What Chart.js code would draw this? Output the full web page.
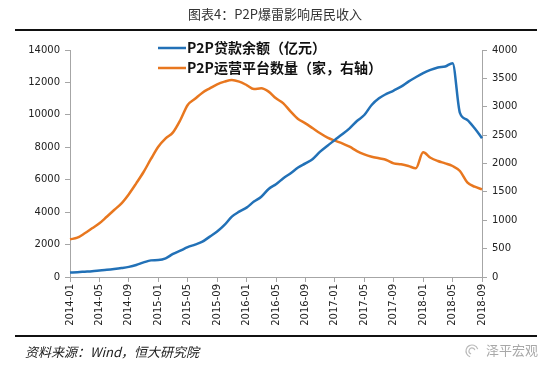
<!DOCTYPE html>
<html>
<head>
<meta charset="utf-8">
<script src="https://cdn.jsdelivr.net/npm/chart.js@4/dist/chart.umd.min.js"></script>
<style>
  html, body { margin: 0; padding: 0; background: #fff; }
  #wrap { width: 550px; height: 367px; position: relative; }
</style>
</head>
<body>
<div id="wrap"><canvas id="chart" width="550" height="367"></canvas></div>
<script>
// months 2014-01 .. 2018-09
const months = [];
for (let y = 2014; y <= 2018; y++) {
  for (let m = 1; m <= 12; m++) {
    if (y === 2018 && m > 9) break;
    months.push(y + "-" + String(m).padStart(2, "0"));
  }
}

// P2P贷款余额（亿元）, left axis
const loanBalance = [
  275, 300, 330, 360, 400, 440, 490, 550, 625, 740, 900, 1025,
  1045, 1150, 1420, 1625, 1840, 2000, 2180, 2490, 2800, 3210, 3720, 4030,
  4280, 4650, 4950, 5430, 5720, 6090, 6400, 6750, 7010, 7280, 7730, 8100,
  8450, 8800, 9170, 9620, 9990, 10610, 11020, 11290, 11500, 11740, 12050, 12320,
  12570, 12770, 12920, 12980, 13190, 10120, 9690, 9170, 8560
];

// P2P运营平台数量（家，右轴）
const platforms = [
  664, 693, 770, 858, 946, 1062, 1180, 1298, 1460, 1650, 1850, 2080,
  2296, 2443, 2549, 2766, 3031, 3140, 3248, 3324, 3395, 3442, 3471, 3442,
  3383, 3313, 3325, 3266, 3148, 3060, 2913, 2784, 2708, 2620, 2532, 2455,
  2402, 2356, 2296, 2220, 2162, 2120, 2091, 2062, 2003, 1986, 1956, 1915,
  2197, 2102, 2044, 2003, 1956, 1868, 1668, 1591, 1545
];

const seriesNames = ["P2P贷款余额（亿元）", "P2P运营平台数量（家，右轴）"];
const leftTicks = [0, 2000, 4000, 6000, 8000, 10000, 12000, 14000];
const rightTicks = [0, 500, 1000, 1500, 2000, 2500, 3000, 3500, 4000];

const BLUE = "#2271b7";
const ORANGE = "#e8771f";
const AXIS = "#a6a6a6";
const tickFont = { family: "DejaVu Sans", size: 10 };

// title, rules, legend and source line
const decor = {
  id: "decor",
  afterDraw(chart) {
    const ctx = chart.ctx;
    ctx.save();
    ctx.fillStyle = "#333";
    ctx.font = '13px "Noto Sans CJK SC"';
    ctx.textAlign = "center";
    ctx.textBaseline = "middle";
    ctx.fillText("图表4：P2P爆雷影响居民收入", 275, 14);

    ctx.strokeStyle = "#111";
    ctx.lineWidth = 2;
    ctx.beginPath();
    ctx.moveTo(15, 30); ctx.lineTo(537, 30);
    ctx.moveTo(15, 336); ctx.lineTo(537, 336);
    ctx.stroke();

    // legend
    const colors = [BLUE, ORANGE];
    ctx.textAlign = "left";
    ctx.font = 'bold 14px "Noto Sans CJK SC"';
    seriesNames.forEach((name, i) => {
      const y = 48 + i * 20;
      ctx.strokeStyle = colors[i];
      ctx.lineWidth = 2.5;
      ctx.beginPath();
      ctx.moveTo(158, y); ctx.lineTo(186, y);
      ctx.stroke();
      ctx.fillStyle = "#111";
      ctx.fillText(name, 187, y);
    });

    // source
    ctx.font = 'italic 13px "Noto Sans CJK SC"';
    ctx.fillStyle = "#222";
    ctx.fillText("资料来源：Wind，恒大研究院", 25, 352);

    ctx.font = '13px "Noto Sans CJK SC"';
    ctx.fillStyle = "#a8a8a8";
    ctx.fillText("泽平宏观", 486, 350);
    ctx.strokeStyle = "#bbb";
    ctx.lineWidth = 1.2;
    ctx.beginPath();
    ctx.arc(472, 351, 6, 0.6 * Math.PI, 1.9 * Math.PI);
    ctx.stroke();
    ctx.beginPath();
    ctx.arc(472, 351, 3, 0.6 * Math.PI, 1.9 * Math.PI);
    ctx.stroke();
    ctx.restore();
  }
};

new Chart(document.getElementById("chart"), {
  type: "line",
  data: {
    labels: months,
    datasets: [
      {
        label: seriesNames[0],
        data: loanBalance,
        borderColor: BLUE,
        borderWidth: 2.5,
        pointRadius: 0,
        cubicInterpolationMode: "monotone",
        yAxisID: "y"
      },
      {
        label: seriesNames[1],
        data: platforms,
        borderColor: ORANGE,
        borderWidth: 2.5,
        pointRadius: 0,
        cubicInterpolationMode: "monotone",
        yAxisID: "y1"
      }
    ]
  },
  options: {
    responsive: false,
    animation: false,
    layout: { padding: { top: 50, left: 0, right: 0, bottom: 0 } },
    plugins: {
      legend: { display: false },
      tooltip: { enabled: false }
    },
    scales: {
      x: {
        grid: { drawOnChartArea: false, color: AXIS, tickLength: 5 },
        border: { color: AXIS },
        ticks: {
          autoSkip: false,
          minRotation: 90,
          maxRotation: 90,
          padding: 2,
          color: "#222",
          font: tickFont,
          callback: (v, i) => (i % 4 === 0 ? months[i] : null)
        },
        afterFit: s => { s.height = 90; }
      },
      y: {
        position: "left",
        min: 0,
        max: 14000,
        afterBuildTicks: s => { s.ticks = leftTicks.map(v => ({ value: v })); },
        grid: { drawOnChartArea: false, color: AXIS, tickLength: 5 },
        border: { color: AXIS },
        ticks: { color: "#222", font: tickFont, padding: 5, callback: v => String(v) },
        afterFit: s => { s.width = 70; }
      },
      y1: {
        position: "right",
        min: 0,
        max: 4000,
        afterBuildTicks: s => { s.ticks = rightTicks.map(v => ({ value: v })); },
        grid: { drawOnChartArea: false, color: AXIS, tickLength: 5 },
        border: { color: AXIS },
        ticks: { color: "#222", font: tickFont, padding: 5, callback: v => String(v) },
        afterFit: s => { s.width = 68; }
      }
    }
  },
  plugins: [decor]
});
</script>
</body>
</html>
